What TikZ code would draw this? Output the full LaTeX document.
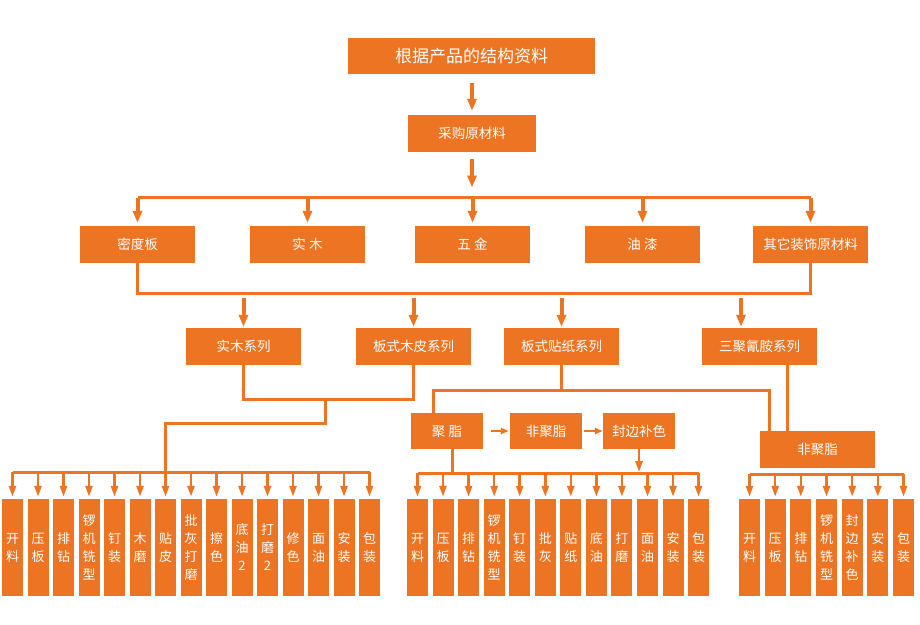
\documentclass[tikz,border=0pt]{standalone}
\usepackage{fontspec}
\setmainfont{Noto Sans CJK SC}
\usetikzlibrary{arrows.meta}
\definecolor{chengse}{RGB}{237,116,34}
\begin{document}
\begin{tikzpicture}[x=1pt, y=-1pt,
    box/.style={fill=chengse, text=white, minimum width=115pt, minimum height=37pt, inner sep=0pt, font=\fontsize{13.5}{16}\selectfont},
    smallbox/.style={box, minimum width=72pt, minimum height=36pt},
    leaf/.style={fill=chengse, text=white, minimum width=21pt, minimum height=97pt, inner sep=0pt, align=center, font=\fontsize{13}{18}\selectfont},
    line/.style={chengse, line width=3pt},
    bigarrow/.style={chengse, line width=4pt, -{Triangle[width=9pt,length=12pt]}},
    leafarrow/.style={chengse, line width=2.5pt, -{Triangle[width=7pt,length=11pt]}},
    smallarrow/.style={chengse, line width=2pt, -{Triangle[width=6pt,length=8pt]}}]{
    \useasboundingbox (0,0) rectangle (920,624);

    \node [box, minimum width=247pt, minimum height=36pt, font=\fontsize{17}{20}\selectfont] (top) at (471.5,56) {根据产品的结构资料};
    \node [box, minimum width=128pt] (cg) at (472,133.5) {采购原材料};

    \node [box] (mdb) at (137.5,244.5) {密度板};
    \node [box] (sm) at (307.5,244.5) {实 木};
    \node [box] (wj) at (472.5,244.5) {五 金};
    \node [box] (yq) at (642.5,244.5) {油 漆};
    \node [box] (qt) at (810.5,244.5) {其它装饰原材料};

    \node [box] (smxl) at (243.5,346.5) {实木系列};
    \node [box] (bsmp) at (413.5,346.5) {板式木皮系列};
    \node [box] (bstz) at (561.5,346.5) {板式贴纸系列};
    \node [box] (sjqa) at (759.5,346.5) {三聚氰胺系列};

    \node [smallbox] (jz) at (447,431) {聚 脂};
    \node [smallbox] (fjz) at (546,431) {非聚脂};
    \node [smallbox] (fbbs) at (639,431) {封边补色};
    \node [box] (fjz2) at (817.5,449.5) {非聚脂};

    \node [leaf] (a1) at (12.5,547.5) {开\\料};
    \node [leaf] (a2) at (38,547.5) {压\\板};
    \node [leaf] (a3) at (63.5,547.5) {排\\钻};
    \node [leaf] (a4) at (89,547.5) {锣\\机\\铣\\型};
    \node [leaf] (a5) at (114.5,547.5) {钉\\装};
    \node [leaf] (a6) at (140,547.5) {木\\磨};
    \node [leaf] (a7) at (165.5,547.5) {贴\\皮};
    \node [leaf] (a8) at (191,547.5) {批\\灰\\打\\磨};
    \node [leaf] (a9) at (216.5,547.5) {擦\\色};
    \node [leaf] (a10) at (242,547.5) {底\\油\\2};
    \node [leaf] (a11) at (267.5,547.5) {打\\磨\\2};
    \node [leaf] (a12) at (293,547.5) {修\\色};
    \node [leaf] (a13) at (318.5,547.5) {面\\油};
    \node [leaf] (a14) at (344,547.5) {安\\装};
    \node [leaf] (a15) at (369.5,547.5) {包\\装};

    \node [leaf] (b1) at (417.5,547.5) {开\\料};
    \node [leaf] (b2) at (443,547.5) {压\\板};
    \node [leaf] (b3) at (468.6,547.5) {排\\钻};
    \node [leaf] (b4) at (494.2,547.5) {锣\\机\\铣\\型};
    \node [leaf] (b5) at (519.7,547.5) {钉\\装};
    \node [leaf] (b6) at (545.3,547.5) {批\\灰};
    \node [leaf] (b7) at (570.8,547.5) {贴\\纸};
    \node [leaf] (b8) at (596.4,547.5) {底\\油};
    \node [leaf] (b9) at (621.9,547.5) {打\\磨};
    \node [leaf] (b10) at (647.5,547.5) {面\\油};
    \node [leaf] (b11) at (673,547.5) {安\\装};
    \node [leaf] (b12) at (698.5,547.5) {包\\装};

    \node [leaf] (c1) at (749.5,547.5) {开\\料};
    \node [leaf] (c2) at (775.2,547.5) {压\\板};
    \node [leaf] (c3) at (800.8,547.5) {排\\钻};
    \node [leaf] (c4) at (826.5,547.5) {锣\\机\\铣\\型};
    \node [leaf] (c5) at (852.2,547.5) {封\\边\\补\\色};
    \node [leaf] (c6) at (877.8,547.5) {安\\装};
    \node [leaf] (c7) at (903.5,547.5) {包\\装};

    \coordinate (bus1) at (0,197.5);
    \coordinate (bus2) at (0,293);
    \coordinate (j1) at (325,399);
    \coordinate (k1) at (433,390);
    \coordinate (k2) at (769,390);
    \coordinate (busA) at (0,472);
    \coordinate (busB) at (0,473);
    \coordinate (busC) at (0,474);

    \draw [bigarrow, shorten <=9pt, shorten >=4pt] (cg.north |- top.south) -- (cg.north);
    \draw [bigarrow, shorten <=7pt, shorten >=10pt] (cg.south) -- (cg |- bus1);
    \draw [line] (mdb |- bus1) -- (qt |- bus1);
    \draw [bigarrow, shorten >=3pt] (mdb |- bus1) -- (mdb.north);
    \draw [bigarrow, shorten >=3pt] (sm |- bus1) -- (sm.north);
    \draw [bigarrow, shorten >=3pt] (wj |- bus1) -- (wj.north);
    \draw [bigarrow, shorten >=3pt] (yq |- bus1) -- (yq.north);
    \draw [bigarrow, shorten >=3pt] (qt |- bus1) -- (qt.north);

    \draw [line] (mdb.south) -- (mdb |- bus2) -- (qt |- bus2) -- (qt.south);
    \draw [bigarrow, shorten <=5pt, shorten >=1pt] (smxl |- bus2) -- (smxl.north);
    \draw [bigarrow, shorten <=5pt, shorten >=1pt] (bsmp |- bus2) -- (bsmp.north);
    \draw [bigarrow, shorten <=5pt, shorten >=1pt] (bstz |- bus2) -- (bstz.north);
    \draw [bigarrow, shorten <=5pt, shorten >=1pt] ([xshift=-18.5pt]sjqa.north |- bus2) -- ([xshift=-18.5pt]sjqa.north);

    \draw [line] (smxl.south) -- (smxl.south |- j1) -| (bsmp.south);
    \draw [line] (j1) -- ++(0,24) -| (a7 |- busA);
    \draw [line] (bstz.south) -- (bstz.south |- k1);
    \draw [line] (k1 |- jz.north) -- (k1) -- (k2) -- (k2 |- fjz2.north);
    \draw [line] ([xshift=27.5pt]sjqa.south) -- ([xshift=27.5pt]sjqa.south |- fjz2.north);

    \draw [smallarrow, shorten <=8pt, shorten >=1pt] (jz.east) -- (fjz.west);
    \draw [smallarrow, shorten <=2pt, shorten >=0pt] (fjz.east) -- (fbbs.west);
    \draw [line] ([xshift=5pt]jz.south) -- ([xshift=5pt]jz.south |- busB);
    \draw [leafarrow, shorten >=1pt] (fbbs.south) -- (fbbs |- busB);

    \draw [line] (a1 |- busA) -- (a15 |- busA);
    \draw [leafarrow, shorten >=2pt] (a1 |- busA) -- (a1.north);
    \draw [leafarrow, shorten >=2pt] (a2 |- busA) -- (a2.north);
    \draw [leafarrow, shorten >=2pt] (a3 |- busA) -- (a3.north);
    \draw [leafarrow, shorten >=2pt] (a4 |- busA) -- (a4.north);
    \draw [leafarrow, shorten >=2pt] (a5 |- busA) -- (a5.north);
    \draw [leafarrow, shorten >=2pt] (a6 |- busA) -- (a6.north);
    \draw [leafarrow, shorten >=2pt] (a7 |- busA) -- (a7.north);
    \draw [leafarrow, shorten >=2pt] (a8 |- busA) -- (a8.north);
    \draw [leafarrow, shorten >=2pt] (a9 |- busA) -- (a9.north);
    \draw [leafarrow, shorten >=2pt] (a10 |- busA) -- (a10.north);
    \draw [leafarrow, shorten >=2pt] (a11 |- busA) -- (a11.north);
    \draw [leafarrow, shorten >=2pt] (a12 |- busA) -- (a12.north);
    \draw [leafarrow, shorten >=2pt] (a13 |- busA) -- (a13.north);
    \draw [leafarrow, shorten >=2pt] (a14 |- busA) -- (a14.north);
    \draw [leafarrow, shorten >=2pt] (a15 |- busA) -- (a15.north);

    \draw [line] (b1 |- busB) -- (b12 |- busB);
    \draw [leafarrow, shorten >=2pt] (b1 |- busB) -- (b1.north);
    \draw [leafarrow, shorten >=2pt] (b2 |- busB) -- (b2.north);
    \draw [leafarrow, shorten >=2pt] (b3 |- busB) -- (b3.north);
    \draw [leafarrow, shorten >=2pt] (b4 |- busB) -- (b4.north);
    \draw [leafarrow, shorten >=2pt] (b5 |- busB) -- (b5.north);
    \draw [leafarrow, shorten >=2pt] (b6 |- busB) -- (b6.north);
    \draw [leafarrow, shorten >=2pt] (b7 |- busB) -- (b7.north);
    \draw [leafarrow, shorten >=2pt] (b8 |- busB) -- (b8.north);
    \draw [leafarrow, shorten >=2pt] (b9 |- busB) -- (b9.north);
    \draw [leafarrow, shorten >=2pt] (b10 |- busB) -- (b10.north);
    \draw [leafarrow, shorten >=2pt] (b11 |- busB) -- (b11.north);
    \draw [leafarrow, shorten >=2pt] (b12 |- busB) -- (b12.north);

    \draw [line] (c1 |- busC) -- (c7 |- busC);
    \draw [leafarrow, shorten >=2pt] (c1 |- busC) -- (c1.north);
    \draw [leafarrow, shorten >=2pt] (c2 |- busC) -- (c2.north);
    \draw [leafarrow, shorten >=2pt] (c3 |- busC) -- (c3.north);
    \draw [leafarrow, shorten >=2pt] (c4 |- busC) -- (c4.north);
    \draw [leafarrow, shorten >=2pt] (c5 |- busC) -- (c5.north);
    \draw [leafarrow, shorten >=2pt] (c6 |- busC) -- (c6.north);
    \draw [leafarrow, shorten >=2pt] (c7 |- busC) -- (c7.north);
    }
\end{tikzpicture}
\end{document}
